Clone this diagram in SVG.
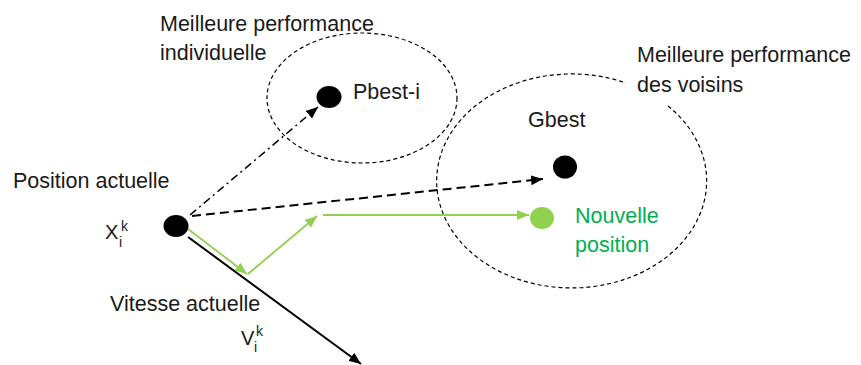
<svg xmlns="http://www.w3.org/2000/svg" width="861" height="365" viewBox="0 0 861 365">
  <style>
    text { font-family: "Liberation Sans", Arial, sans-serif; font-size: 21.5px; fill: #1a1a1a; }
    .sym { font-size: 20px; }
    .idx { font-size: 14px; }
    .green-text { fill: #00B050; }
    .zone { fill: none; stroke: #000; stroke-width: 1.2; stroke-dasharray: 4 3; }
    .dot { fill: #000; }
    .dot-new { fill: #92D050; }
    .dashdot { fill: none; stroke: #000; stroke-width: 1.5; stroke-dasharray: 8 4 2 4; }
    .dashed { fill: none; stroke: #000; stroke-width: 2; stroke-dasharray: 9 5; }
    .solid { fill: none; stroke: #000; stroke-width: 2; }
    .move { fill: none; stroke: #92D050; stroke-width: 1.8; }
  </style>
  <defs>
    <marker id="arrow-black" markerUnits="userSpaceOnUse" viewBox="0 0 12 10" refX="12" refY="5" markerWidth="12" markerHeight="10" orient="auto">
      <path d="M0,0 L12,5 L0,10 Z" fill="#000"/>
    </marker>
    <marker id="arrow-green" markerUnits="userSpaceOnUse" viewBox="0 0 12 10" refX="12" refY="5" markerWidth="12" markerHeight="10" orient="auto">
      <path d="M0,0 L12,5 L0,10 Z" fill="#92D050"/>
    </marker>
  </defs>

  <!-- neighbourhood zones -->
  <g id="zones">
    <ellipse class="zone" cx="362" cy="98" rx="95" ry="65"/>
    <path class="zone" d="M668,106 A135,107 0 1 1 626,83"/>
  </g>

  <!-- connectors -->
  <g id="connectors">
    <line class="dashdot" x1="190" y1="215" x2="318" y2="107" marker-end="url(#arrow-black)"/>
    <line class="dashed" x1="192" y1="216" x2="543" y2="179" marker-end="url(#arrow-black)"/>
    <line class="solid" x1="188" y1="237" x2="361" y2="364" marker-end="url(#arrow-black)"/>
    <line class="move" x1="188" y1="229" x2="247" y2="274" marker-end="url(#arrow-green)"/>
    <line class="move" x1="248" y1="274" x2="317" y2="216" marker-end="url(#arrow-green)"/>
    <line class="move" x1="323" y1="215" x2="529" y2="215" marker-end="url(#arrow-green)"/>
  </g>

  <!-- current position -->
  <g id="current">
    <ellipse class="dot" cx="176" cy="226" rx="12.5" ry="11"/>
    <text x="13" y="188">Position actuelle</text>
    <text class="sym" x="105" y="239">X<tspan class="idx" x="119" y="247">i</tspan><tspan class="idx" x="121" y="231">k</tspan></text>
  </g>

  <!-- current velocity label -->
  <g id="velocity">
    <text x="110" y="311">Vitesse actuelle</text>
    <text class="sym" x="241" y="345">V<tspan class="idx" x="254" y="352">i</tspan><tspan class="idx" x="256" y="336">k</tspan></text>
  </g>

  <!-- personal best -->
  <g id="pbest">
    <ellipse class="dot" cx="329" cy="97" rx="12.5" ry="11"/>
    <text x="353" y="99">Pbest-i</text>
    <text x="160" y="31">Meilleure performance</text>
    <text x="160" y="60">individuelle</text>
  </g>

  <!-- neighbourhood best -->
  <g id="gbest">
    <ellipse class="dot" cx="565" cy="167" rx="12" ry="11.5"/>
    <text x="528" y="127">Gbest</text>
    <text x="637" y="62">Meilleure performance</text>
    <text x="637" y="92">des voisins</text>
  </g>

  <!-- new position -->
  <g id="new-position">
    <ellipse class="dot-new" cx="542" cy="218" rx="12" ry="11"/>
    <text class="green-text" x="575" y="223">Nouvelle</text>
    <text class="green-text" x="575" y="252">position</text>
  </g>
</svg>
